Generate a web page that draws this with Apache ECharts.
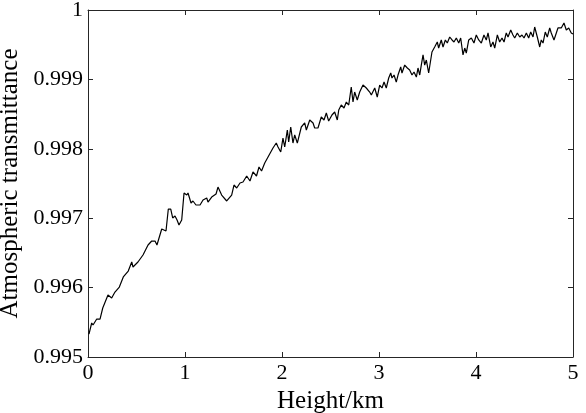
<!DOCTYPE html>
<html>
<head>
<meta charset="utf-8">
<script src="https://cdn.jsdelivr.net/npm/echarts@6/dist/echarts.min.js"></script>
<style>html,body{margin:0;padding:0;background:#fff}#c{width:586px;height:413px}</style>
</head>
<body>
<div id="c"></div>
<script>
const heights = [0.010,0.038,0.052,0.090,0.124,0.152,0.206,0.244,0.278,0.323,0.364,0.415,0.451,0.464,0.515,0.567,0.619,0.657,0.691,0.711,
0.760,0.804,0.828,0.853,0.873,0.897,0.918,0.938,0.966,0.990,1.018,1.031,1.062,1.082,1.113,1.155,1.186,1.224,1.237,1.275,
1.289,1.320,1.340,1.378,1.430,1.481,1.505,1.533,1.567,1.598,1.636,1.670,1.701,1.737,1.763,1.789,1.822,1.856,1.907,1.941,
1.959,1.987,2.010,2.028,2.055,2.069,2.090,2.113,2.131,2.158,2.199,2.234,2.251,2.286,2.320,2.337,2.371,2.405,2.433,2.457,
2.481,2.515,2.543,2.570,2.585,2.611,2.639,2.663,2.688,2.714,2.732,2.749,2.776,2.801,2.835,2.869,2.904,2.921,2.956,2.982,
3.007,3.031,3.052,3.075,3.100,3.121,3.134,3.155,3.178,3.196,3.224,3.237,3.265,3.292,3.316,3.340,3.361,3.385,3.402,3.420,
3.436,3.454,3.471,3.488,3.512,3.546,3.574,3.601,3.615,3.642,3.660,3.684,3.704,3.729,3.753,3.773,3.797,3.822,3.842,3.866,
3.884,3.900,3.925,3.952,3.979,4.003,4.028,4.055,4.082,4.106,4.124,4.152,4.175,4.193,4.220,4.244,4.268,4.289,4.312,4.330,
4.358,4.381,4.399,4.426,4.451,4.474,4.495,4.519,4.543,4.564,4.588,4.605,4.632,4.657,4.673,4.691,4.714,4.735,4.760,4.776,
4.804,4.828,4.845,4.879,4.907,4.931,4.956,4.982,5.000];
const transmittance = [0.995331,0.995490,0.995461,0.995547,0.995547,0.995706,0.995893,0.995850,0.995936,0.996008,0.996153,0.996239,0.996369,0.996297,0.996369,0.996470,0.996614,0.996671,0.996671,0.996614,
0.996844,0.996815,0.997132,0.997132,0.997003,0.997032,0.996974,0.996902,0.996974,0.997363,0.997334,0.997363,0.997219,0.997248,0.997190,0.997190,0.997262,0.997291,0.997233,0.997305,
0.997291,0.997349,0.997449,0.997334,0.997248,0.997334,0.997478,0.997435,0.997507,0.997521,0.997608,0.997536,0.997666,0.997608,0.997738,0.997680,0.997795,0.997882,0.998011,0.998083,
0.998026,0.997954,0.998155,0.998026,0.998271,0.998098,0.998314,0.998083,0.998199,0.998083,0.998314,0.998372,0.998271,0.998415,0.998372,0.998300,0.998300,0.998458,0.998415,0.998516,
0.998400,0.998487,0.998530,0.998415,0.998559,0.998631,0.998588,0.998674,0.998631,0.998890,0.998674,0.998818,0.998703,0.998818,0.998919,0.998876,0.998818,0.998775,0.998876,0.998746,
0.998919,0.998876,0.998962,0.998876,0.999020,0.999092,0.999020,0.999063,0.998962,0.999063,0.999179,0.999092,0.999207,0.999164,0.999135,0.999063,0.999107,0.999034,0.999164,0.999063,
0.999207,0.999352,0.999207,0.999279,0.999092,0.999395,0.999467,0.999539,0.999452,0.999568,0.999467,0.999568,0.999524,0.999611,0.999568,0.999539,0.999597,0.999524,0.999597,0.999352,
0.999452,0.999380,0.999568,0.999597,0.999524,0.999640,0.999568,0.999524,0.999640,0.999568,0.999669,0.999467,0.999539,0.999452,0.999640,0.999539,0.999597,0.999539,0.999669,0.999611,
0.999712,0.999640,0.999597,0.999669,0.999611,0.999640,0.999597,0.999669,0.999597,0.999683,0.999611,0.999755,0.999611,0.999467,0.999568,0.999524,0.999683,0.999611,0.999741,0.999669,
0.999568,0.999669,0.999741,0.999741,0.999813,0.999712,0.999741,0.999669,0.999654];
const xTicks = [0,1,2,3,4,5];
const yTicks = ['0.995','0.996','0.997','0.998','0.999','1'];

const data = heights.map((h,i)=>[h, transmittance[i]]);
const font = 'Liberation Serif';
const axisCol = '#262626';
const chart = echarts.init(document.getElementById('c'), null, {renderer:'canvas'});
chart.setOption({
  animation:false,
  backgroundColor:'#fff',
  grid:{left:88,right:13,top:10,bottom:56,containLabel:false,outerBoundsMode:'none'},
  xAxis:[{
    type:'value',min:0,max:5,interval:1,position:'bottom',
    name:'Height/km',nameLocation:'middle',nameGap:31,
    nameTextStyle:{fontFamily:font,fontSize:25,color:'#000'},
    axisLine:{show:true,onZero:false,lineStyle:{color:axisCol,width:1}},
    axisTick:{show:true,inside:true,length:5,lineStyle:{color:axisCol}},
    axisLabel:{fontFamily:font,fontSize:22,color:'#000',margin:5,formatter:v=>String(xTicks[Math.round(v)])},
    splitLine:{show:false}
  },{
    type:'value',min:0,max:5,interval:1,position:'top',
    axisLine:{show:true,onZero:false,lineStyle:{color:axisCol,width:1}},
    axisTick:{show:true,inside:true,length:5,lineStyle:{color:axisCol}},
    axisLabel:{show:false},splitLine:{show:false}
  }],
  yAxis:[{
    type:'value',min:0.995,max:1,interval:0.001,position:'left',
    name:'Atmospheric transmittance',nameLocation:'middle',nameGap:44,
    nameTextStyle:{fontFamily:font,fontSize:25,color:'#000'},
    axisLine:{show:true,onZero:false,lineStyle:{color:axisCol,width:1}},
    axisTick:{show:true,inside:true,length:5,lineStyle:{color:axisCol}},
    axisLabel:{fontFamily:font,fontSize:22,color:'#000',margin:5,
      formatter:v=>yTicks[Math.round((v-0.995)/0.001)]},
    splitLine:{show:false}
  },{
    type:'value',min:0.995,max:1,interval:0.001,position:'right',
    axisLine:{show:true,onZero:false,lineStyle:{color:axisCol,width:1}},
    axisTick:{show:true,inside:true,length:5,lineStyle:{color:axisCol}},
    axisLabel:{show:false},splitLine:{show:false}
  }],
  series:[{
    type:'line',data:data,xAxisIndex:0,yAxisIndex:0,
    showSymbol:false,symbol:'none',
    lineStyle:{color:'#000',width:1.2},
    itemStyle:{color:'#000'}
  }]
});
</script>
</body>
</html>
